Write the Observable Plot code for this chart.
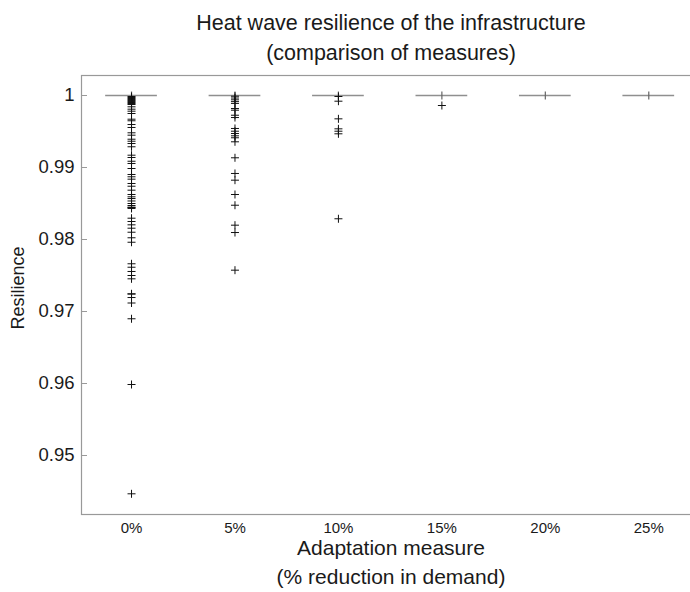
<!DOCTYPE html>
<html><head><meta charset="utf-8">
<script src="https://cdn.jsdelivr.net/npm/d3@7"></script>
<script src="https://cdn.jsdelivr.net/npm/@observablehq/plot@0.6"></script>
<style>
html,body{margin:0;padding:0;background:#fff;overflow:hidden;}
#chart{width:690px;height:592px;overflow:hidden;}
#chart svg{max-width:none !important;}
</style></head><body><div id="chart"></div>
<script>
const categories = ["0%", "5%", "10%", "15%", "20%", "25%"];
const medians = [1, 1, 1, 1, 1, 1];
const outliers0 = [0.99986, 0.99972, 0.99958, 0.99944, 0.99931, 0.99917, 0.99903, 0.99889, 0.99875,
  0.99843, 0.9981, 0.99782, 0.9975, 0.99671, 0.99649, 0.99597, 0.99556, 0.99482, 0.99449, 0.99393,
  0.99365, 0.99333, 0.99288, 0.99171, 0.99139, 0.99087, 0.99056, 0.98986, 0.98903, 0.98871, 0.98838,
  0.98778, 0.9874, 0.98685, 0.98625, 0.98593, 0.98569, 0.98535, 0.985, 0.98472, 0.98449, 0.98445,
  0.98431, 0.98296, 0.9825, 0.98204, 0.98157, 0.98101, 0.98024, 0.97962, 0.97663, 0.97615, 0.97556,
  0.975, 0.97454, 0.97246, 0.97242, 0.97194, 0.97118, 0.96899, 0.95986, 0.94468];
const outliers5 = [0.9999, 0.99965, 0.9994, 0.99915, 0.9989, 0.99819, 0.99796, 0.99726, 0.99694,
  0.99542, 0.99504, 0.99472, 0.9944, 0.99413, 0.99357, 0.99135, 0.98917, 0.98824, 0.98625, 0.98476,
  0.98199, 0.98097, 0.97574];
const outliers10 = [0.99986, 0.99921, 0.99676, 0.99537, 0.99504, 0.99468, 0.98288];
const outliers15 = [0.99861];
const outliers20 = [];
const outliers25 = [];
const yTicks = [0.95, 0.96, 0.97, 0.98, 0.99, 1];
const yTickLabels = ["0.95", "0.96", "0.97", "0.98", "0.99", "1"];
const titleLines = ["Heat wave resilience of the infrastructure", "(comparison of measures)"];
const xLabelLines = ["Adaptation measure", "(% reduction in demand)"];
const yLabel = "Resilience";

const positions = categories.map((c, i) => i + 1);
const boxes = categories.map((c, i) => ({pos: i + 1, median: medians[i]}));
const outlierData = [outliers0, outliers5, outliers10, outliers15, outliers20, outliers25]
  .flatMap((arr, i) => arr.map(v => ({pos: i + 1, v})));
const halfBox = 0.25;
const plusSym = {draw(ctx) { ctx.moveTo(-4, 0); ctx.lineTo(4, 0); ctx.moveTo(0, -4); ctx.lineTo(0, 4); }};
const vSym = {draw(ctx) { ctx.moveTo(0, -4); ctx.lineTo(0, 4); }};
const font = "'Liberation Sans', Arial, Helvetica, sans-serif";

const chart = Plot.plot({
  width: 700, height: 592,
  marginLeft: 81, marginRight: 0, marginTop: 75, marginBottom: 78,
  style: {fontFamily: font, color: "#1a1a1a", background: "white", overflow: "visible", maxWidth: "none"},
  x: {type: "linear", domain: [0.5164, 6.5], label: null},
  y: {domain: [0.941806, 1.002778], label: null},
  marks: [
    Plot.frame({stroke: "#999", strokeWidth: 1.2}),
    Plot.ruleY(yTicks, {insetRight: 613, stroke: "#999"}),
    Plot.axisY(yTicks, {tickSize: 0, tickPadding: 7, fontSize: 18.5, label: null, tickFormat: d => yTickLabels[yTicks.indexOf(d)]}),
    Plot.axisX(positions, {tickSize: 0, tickPadding: 8, fontSize: 15, label: null, tickFormat: d => categories[positions.indexOf(d)]}),
    Plot.ruleY(boxes, {y: "median", x1: d => d.pos - halfBox, x2: d => d.pos + halfBox, stroke: "#8f8f8f", strokeWidth: 1.5}),
    Plot.dot(boxes, {x: "pos", y: "median", symbol: vSym, stroke: "#666", strokeWidth: 1.2, fill: "none"}),
    Plot.dot(outlierData, {x: "pos", y: "v", symbol: plusSym, stroke: "#111", strokeWidth: 1, fill: "none"}),
    Plot.text([titleLines[0]], {frameAnchor: "top", dy: -61, fontSize: 21.5}),
    Plot.text([titleLines[1]], {frameAnchor: "top", dy: -31, fontSize: 21.5}),
    Plot.text([xLabelLines[0]], {frameAnchor: "bottom", dy: 40, fontSize: 21}),
    Plot.text([xLabelLines[1]], {frameAnchor: "bottom", dy: 69, fontSize: 21}),
    Plot.text([yLabel], {frameAnchor: "left", textAnchor: "middle", dx: -63, dy: -7, rotate: -90, fontSize: 18})
  ]
});
document.getElementById("chart").appendChild(chart);
</script></body></html>
